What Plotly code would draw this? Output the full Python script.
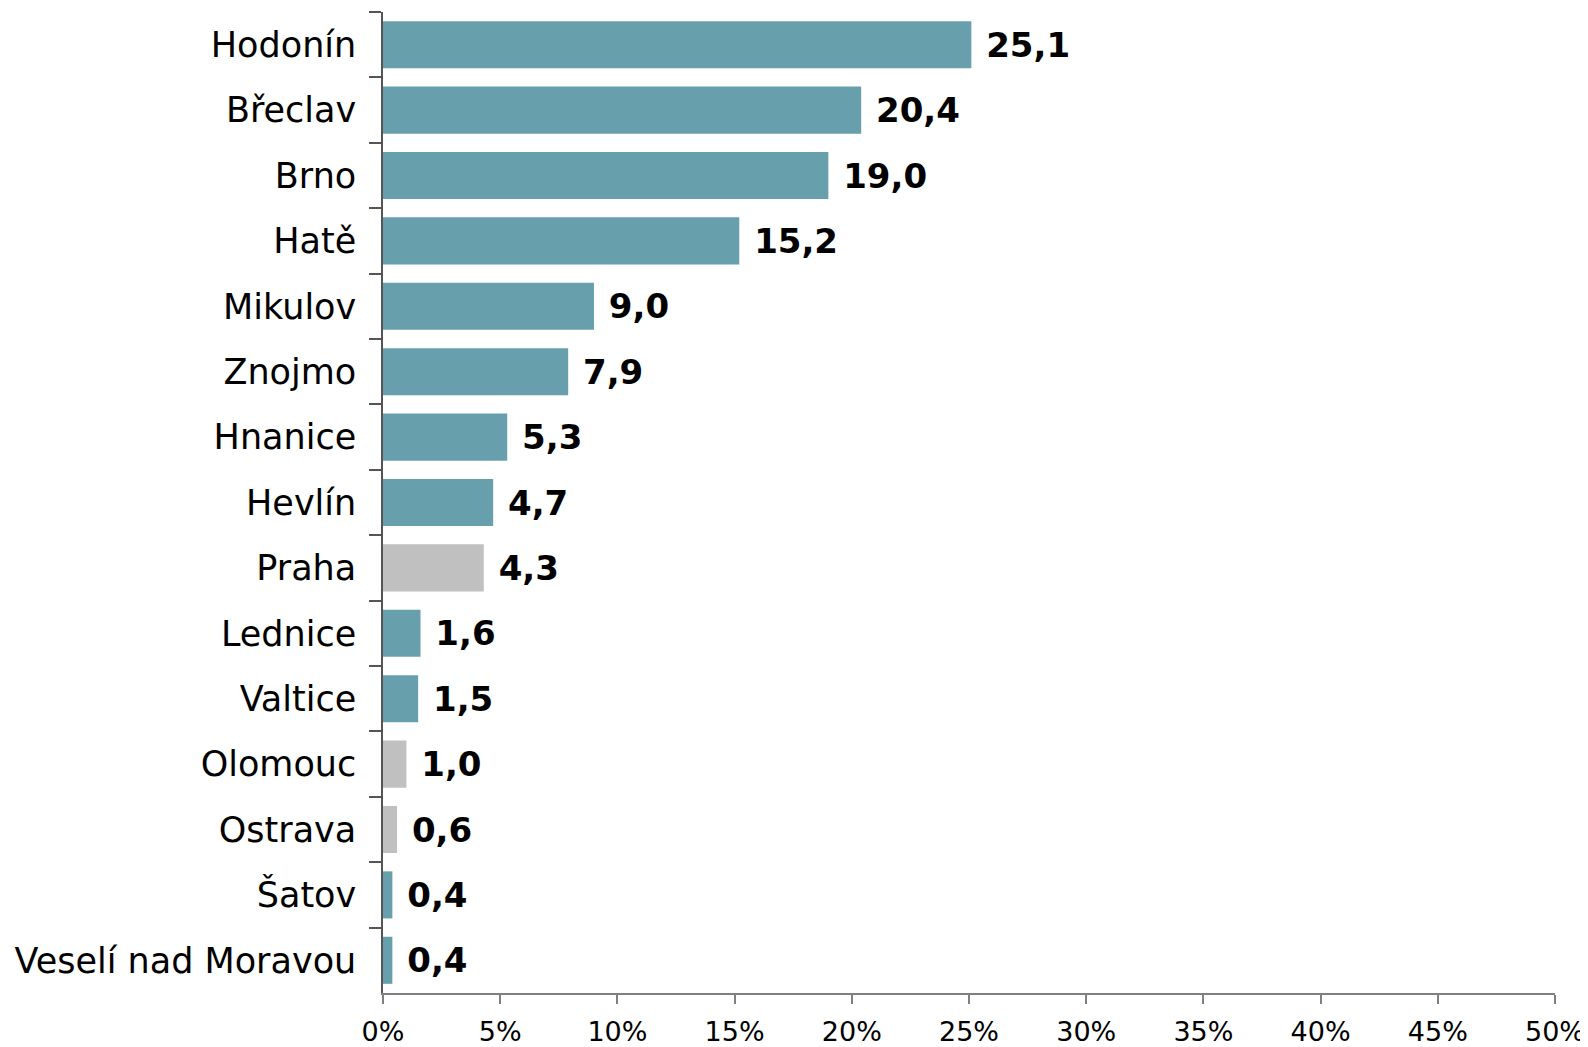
import plotly.graph_objects as go

categories = ["Hodonín", "Břeclav", "Brno", "Hatě", "Mikulov", "Znojmo", "Hnanice",
              "Hevlín", "Praha", "Lednice", "Valtice", "Olomouc", "Ostrava", "Šatov",
              "Veselí nad Moravou"]
values = [25.1, 20.4, 19.0, 15.2, 9.0, 7.9, 5.3, 4.7, 4.3, 1.6, 1.5, 1.0, 0.6, 0.4, 0.4]
highlight = [False, False, False, False, False, False, False, False, True, False, False,
             True, True, False, False]
tick_vals = [0, 5, 10, 15, 20, 25, 30, 35, 40, 45, 50]

TEAL = "#689FAD"
GREY = "#C0C0C0"
colors = [GREY if h else TEAL for h in highlight]
labels = [" " + f"{v:.1f}".replace(".", ",") for v in values]

fig = go.Figure(go.Bar(
    x=values, y=categories, orientation="h",
    marker=dict(color=colors, line=dict(width=0)),
    text=labels, textposition="outside", cliponaxis=False,
    textfont=dict(family="DejaVu Sans", size=34, color="black", weight="bold"),
))

fig.update_layout(
    template="none",
    width=1580, height=1039,
    margin=dict(l=375, r=33, t=4, b=54, autoexpand=False),
    paper_bgcolor="white", plot_bgcolor="white",
    bargap=0.28, showlegend=False,
    font=dict(family="DejaVu Sans", color="black"),
)
fig.update_xaxes(
    range=[0, 50], tickvals=tick_vals, ticktext=[f"{t}%" for t in tick_vals],
    automargin=False,
    showgrid=False, zeroline=False, showline=True, linecolor="#808080", linewidth=1.5,
    ticks="outside", ticklen=9, tickcolor="#808080", tickwidth=1.5,
    tickfont=dict(size=27, family="DejaVu Sans"), ticklabelstandoff=5,
)
fig.update_yaxes(
    autorange="reversed", type="category", tickson="boundaries", automargin=False,
    showgrid=False, showline=True, linecolor="#555555", linewidth=1.5,
    ticks="outside", ticklen=12, tickcolor="#555555", tickwidth=1.5,
    tickfont=dict(size=35, family="DejaVu Sans"), ticklabelstandoff=18,
)

fig.write_html("out.html")
